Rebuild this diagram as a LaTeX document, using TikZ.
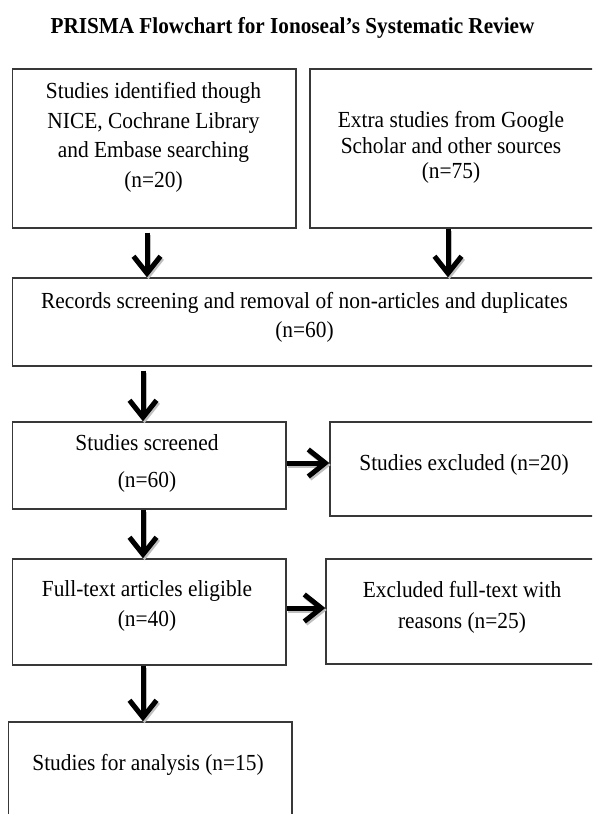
\documentclass[tikz,border=0pt]{standalone}
\usepackage{fontspec}
\setmainfont[FakeStretch=0.93]{Liberation Serif}
\usetikzlibrary{arrows.meta}
\begin{document}
\begin{tikzpicture}[x=1pt,y=-1pt,
  box/.style={draw=black!78, line width=1.4pt, rectangle, inner sep=0pt},
  txt/.style={align=center, inner sep=0pt, font=\fontsize{23}{29.5}\selectfont},
  arr/.style={line width=5pt, -{Straight Barb[length=17pt,width=27pt,line width=5pt]}},
  arrsh/.style={line width=5pt, black!25, -{Straight Barb[length=17pt,width=27pt,line width=5pt]}, transform canvas={shift={(1.5pt,-2pt)}}}]
\clip (0,0) rectangle (592,814);
\useasboundingbox (0,0) rectangle (592,814);
\fill[white] (0,0) rectangle (592,814);

\node[anchor=base, inner sep=0pt, font=\bfseries\fontsize{22.8}{26}\selectfont] (title) at (292.5,33.5) {PRISMA Flowchart for Ionoseal’s Systematic Review};

% boxes
\node[box, minimum width=283.3pt, minimum height=159pt] (a) at (154.35,148.5) {};
\node[box, minimum width=288pt, minimum height=159pt] (b) at (454,148.5) {};
\node[box, minimum width=584.3pt, minimum height=88pt] (c) at (304.85,322) {};
\node[box, minimum width=273.3pt, minimum height=87pt] (d) at (149.35,465.5) {};
\node[box, minimum width=268pt, minimum height=94pt] (e) at (464,469) {};
\node[box, minimum width=273.3pt, minimum height=106pt] (g) at (149.35,612) {};
\node[box, minimum width=272pt, minimum height=105pt] (f) at (462,611.5) {};
\node[box, minimum width=283.7pt, minimum height=110pt] (h) at (150.15,777) {};

% texts
\node[txt] (ta) at (153.5,137.5) {Studies identified though\\NICE, Cochrane Library\\and Embase searching\\(n=20)};
\node[txt, font=\fontsize{23}{25.5}\selectfont] (tb) at (451,147.5) {Extra studies from Google\\Scholar and other sources\\(n=75)};
\node[txt] (tc) at (304.5,317.5) {Records screening and removal of non-articles and duplicates\\(n=60)};
\node[txt, font=\fontsize{23}{37}\selectfont] (td) at (147,463.5) {Studies screened\\(n=60)};
\node[txt] (te) at (464,465) {Studies excluded (n=20)};
\node[txt] (tg) at (147,606) {Full-text articles eligible\\(n=40)};
\node[txt, font=\fontsize{23}{31}\selectfont] (tf) at (462,607.5) {Excluded full-text with\\reasons (n=25)};
\node[txt] (th) at (148,765) {Studies for analysis (n=15)};

% arrow guide coordinates
\coordinate (xa) at (147,0);
\coordinate (xb) at (448,0);
\coordinate (xl) at (143,0);
\coordinate (yd) at (0,463);
\coordinate (yg) at (0,608);

% shadows
\draw[arrsh] ([yshift=-4pt]a.south -| xa) -- (c.north -| xa);
\draw[arrsh] (b.south -| xb) -- (c.north -| xb);
\draw[arrsh] ([yshift=-4pt]c.south -| xl) -- (d.north -| xl);
\draw[arrsh] (d.south -| xl) -- (g.north -| xl);
\draw[arrsh] (g.south -| xl) -- (h.north -| xl);
\draw[arrsh] (d.east |- yd) -- (e.west |- yd);
\draw[arrsh] (g.east |- yg) -- (f.west |- yg);

% arrows
\draw[arr] ([yshift=-4pt]a.south -| xa) -- (c.north -| xa);
\draw[arr] (b.south -| xb) -- (c.north -| xb);
\draw[arr] ([yshift=-4pt]c.south -| xl) -- (d.north -| xl);
\draw[arr] (d.south -| xl) -- (g.north -| xl);
\draw[arr] (g.south -| xl) -- (h.north -| xl);
\draw[arr] (d.east |- yd) -- (e.west |- yd);
\draw[arr] (g.east |- yg) -- (f.west |- yg);
\end{tikzpicture}
\end{document}
